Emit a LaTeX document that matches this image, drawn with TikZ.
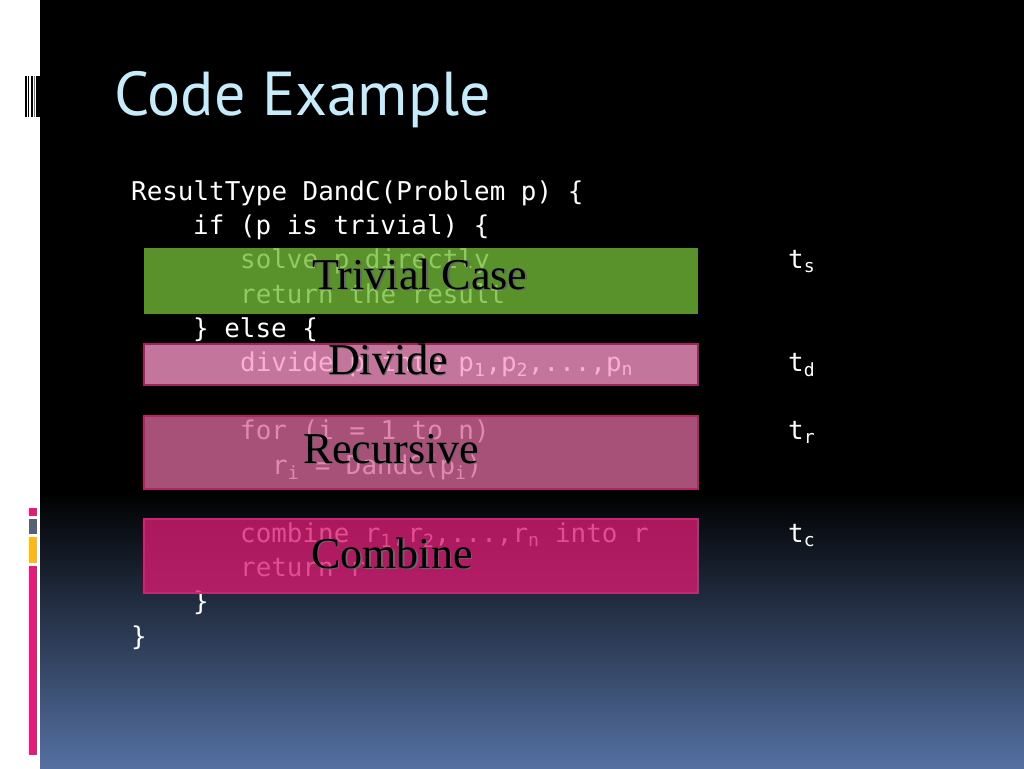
\documentclass[tikz,border=0pt]{standalone}
\usepackage{fontspec}
\newfontfamily\codefont{DejaVu Sans Mono}
\newfontfamily\titlefont{PT Sans}
\newfontfamily\labelfont{Liberation Serif}
\definecolor{bgblue}{RGB}{84,112,162}
\definecolor{titleblue}{RGB}{198,236,252}
\definecolor{trivfill}{RGB}{115,187,54}
\definecolor{divfill}{RGB}{250,151,199}
\definecolor{recfill}{RGB}{215,104,156}
\definecolor{comfill}{RGB}{219,28,115}
\definecolor{divborder}{RGB}{160,36,92}
\definecolor{recborder}{RGB}{176,38,98}
\definecolor{comborder}{RGB}{196,40,116}
\definecolor{barpink}{RGB}{227,28,121}
\definecolor{bargray}{RGB}{86,97,115}
\definecolor{baryellow}{RGB}{251,184,24}
\tikzset{
  code/.style={anchor=base west, inner sep=0pt, text=white, font=\fontsize{25.9}{30}\codefont},
  tlab/.style={anchor=base west, inner sep=0pt, text=white, font=\fontsize{25.9}{30}\codefont},
  box/.style={anchor=north west, inner sep=0pt, minimum width=554pt, fill opacity=0.78, line width=1.5pt},
  blabel/.style={anchor=base, inner sep=0pt, text=black, font=\fontsize{44}{48}\labelfont},
  bshadow/.style={anchor=base, inner sep=0pt, text=black!60, font=\fontsize{44}{48}\labelfont},
}
\begin{document}
\begin{tikzpicture}[x=1pt,y=-1pt]
\useasboundingbox (0,0) rectangle (1024,768);
% background
\fill[black] (0,0) rectangle (1024,768);
\shade[top color=black,bottom color=bgblue] (40,492) rectangle (1024,768);
\fill[white] (0,0) rectangle (40,768);
% barcode
\fill[black] (25,76) rectangle (26.5,117);
\fill[black] (27.5,76) rectangle (29,117);
\fill[black] (30.5,76) rectangle (33,117);
\fill[black!55] (34,76) rectangle (35.2,117);
\fill[black] (36,76) rectangle (40,117);
% side bars
\fill[barpink] (29,508) rectangle (37,516);
\fill[bargray] (29,519) rectangle (37,534);
\fill[baryellow] (29,537) rectangle (37,563);
\fill[barpink] (29,566) rectangle (37,755);
% title
\node[anchor=base west, inner sep=0pt, text=titleblue, font=\fontsize{62}{68}\titlefont] (title) at (114,115) {Code Example};
% code
\node[code] (c1) at (131,200.5) {ResultType DandC(Problem p) \{};
\node[code] (c2) at (193,234.7) {if (p is trivial) \{};
\node[code] (c3) at (240,268.9) {solve p directly};
\node[code] (c4) at (240,303.1) {return the result};
\node[code] (c5) at (193,337.3) {\} else \{};
\node[code] (c6) at (240,371.5) {divide p into p\textsubscript{1},p\textsubscript{2},...,p\textsubscript{n}};
\node[code] (c8) at (240,439.9) {for (i = 1 to n)};
\node[code] (c9) at (272,474.1) {r\textsubscript{i} = DandC(p\textsubscript{i})};
\node[code] (c11) at (240,542.5) {combine r\textsubscript{1},r\textsubscript{2},...,r\textsubscript{n} into r};
\node[code] (c12) at (240,576.7) {return r};
\node[code] (c13) at (193,610.9) {\}};
\node[code] (c14) at (131,645.1) {\}};
% times
\node[tlab] (ts) at (788,268.9) {t\textsubscript{s}};
\node[tlab] (td) at (788,371.5) {t\textsubscript{d}};
\node[tlab] (tr) at (788,439.9) {t\textsubscript{r}};
\node[tlab] (tc) at (788,542.5) {t\textsubscript{c}};
% boxes
\node[box, fill=trivfill, minimum height=66pt] (trivial) at (143,247) {};
\node[box, fill=divfill, draw=divborder, minimum height=41pt] (divide) at (143,343) {};
\node[box, fill=recfill, draw=recborder, minimum height=73pt] (recursive) at (143,415) {};
\node[box, fill=comfill, draw=comborder, minimum height=74pt] (combine) at (143,518) {};
% labels
\node[bshadow] (trivS) at (421.5,290.5) {Trivial Case};
\node[blabel] (trivL) at (420,289) {Trivial Case};
\node[bshadow] (divS) at (389.5,375.5) {Divide};
\node[blabel] (divL) at (388,374) {Divide};
\node[bshadow] (recS) at (392.5,464.5) {Recursive};
\node[blabel] (recL) at (391,463) {Recursive};
\node[bshadow] (comS) at (393.5,569.5) {Combine};
\node[blabel] (comL) at (392,568) {Combine};
\end{tikzpicture}
\end{document}
